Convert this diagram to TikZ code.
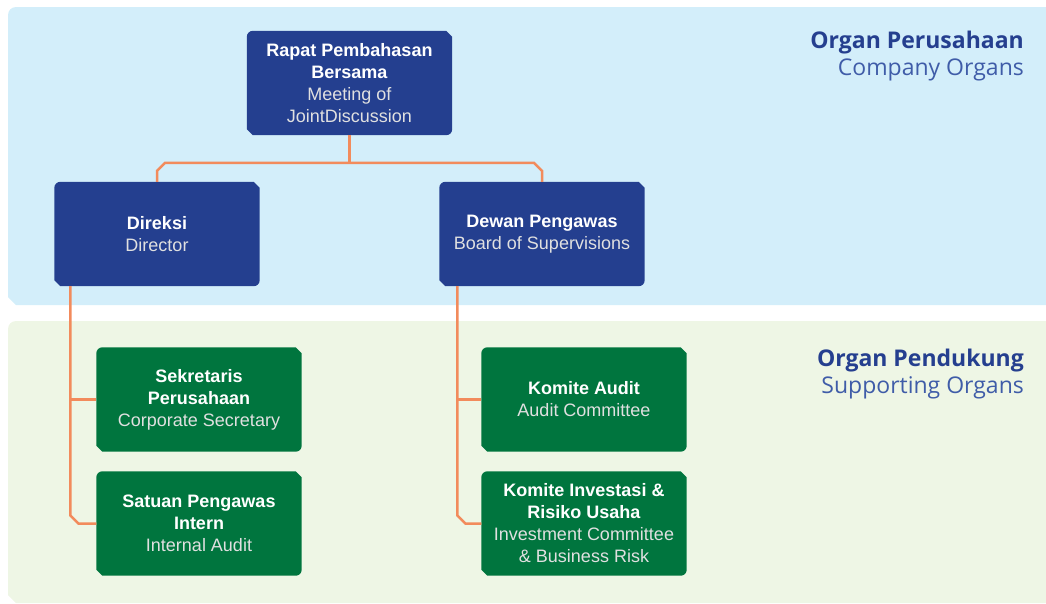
\documentclass[tikz,border=0pt]{standalone}
\usepackage{fontspec}
\setmainfont{Liberation Sans}
\newfontfamily\headfont{Open Sans}
\usetikzlibrary{calc}
\definecolor{skypanel}{HTML}{D3EEFA}
\definecolor{leafpanel}{HTML}{EEF6E5}
\definecolor{navybox}{HTML}{243F8F}
\definecolor{greenbox}{HTML}{00753E}
\definecolor{linkorange}{HTML}{F28B5C}
\definecolor{headnavy}{HTML}{253F8F}
\definecolor{subnavy}{HTML}{3F5CA8}
\pgfdeclarelayer{panels}
\pgfdeclarelayer{fills}
\pgfsetlayers{panels,fills,main}
\newcommand\lt[1]{{\color{white!88!black}#1}}
% filled box: rounded top-left / bottom-right, chamfered top-right / bottom-left
\newcommand\orgshape[2]{%
  \fill[#2] ([yshift=-6pt]#1.north west) arc[start angle=180,end angle=90,radius=6pt]
    -- ([xshift=-6pt]#1.north east) -- ([yshift=-6pt]#1.north east)
    -- ([yshift=6pt]#1.south east) arc[start angle=0,end angle=-90,radius=6pt]
    -- ([xshift=6pt]#1.south west) -- ([yshift=6pt]#1.south west) -- cycle;}
\tikzset{
  organ/.style={minimum width=205pt, minimum height=104pt, inner sep=0pt,
    align=center, text=white, font=\fontsize{18}{22}\selectfont},
  link/.style={draw=linkorange, line width=2.5pt, line join=miter},
  headline/.style={anchor=base east, inner sep=0pt, text=headnavy,
    font=\headfont\bfseries\fontsize{23}{26}\selectfont},
  subline/.style={anchor=base east, inner sep=0pt, text=subnavy,
    font=\headfont\fontsize{23}{26}\selectfont},
}
\begin{document}
\begin{tikzpicture}[x=1pt,y=-1pt]
\useasboundingbox (0,0) rectangle (1046,603);

% section panels
\begin{pgfonlayer}{panels}
  \fill[skypanel] (8,15) arc[start angle=180,end angle=90,radius=8pt]
    -- (1046,7) -- (1046,305) -- (16,305) -- (8,297) -- cycle;
  \fill[leafpanel] (8,329) arc[start angle=180,end angle=90,radius=8pt]
    -- (1046,321) -- (1046,603) -- (16,603) -- (8,595) -- cycle;
\end{pgfonlayer}

% section headings
\node[headline] (hco) at (1024,48) {Organ Perusahaan};
\node[subline]  (sco) at (1024,75) {Company Organs};
\node[headline] (hsu) at (1024,366) {Organ Pendukung};
\node[subline]  (ssu) at (1024,393) {Supporting Organs};

% organ boxes
\node[organ] (rapat) at (349.5,83)
  {\textbf{Rapat Pembahasan}\\\textbf{Bersama}\\\lt{Meeting of}\\\lt{JointDiscussion}};
\node[organ] (dir) at (157,234) {\textbf{Direksi}\\\lt{Director}};
\node[organ] (dew) at (542,234) {\textbf{Dewan Pengawas}\\\lt{Board of Supervisions}};
\node[organ] (sek) at (199,399.5)
  {\textbf{Sekretaris}\\\textbf{Perusahaan}\\\lt{Corporate Secretary}};
\node[organ] (sat) at (199,523.5)
  {\textbf{Satuan Pengawas}\\\textbf{Intern}\\\lt{Internal Audit}};
\node[organ] (kau) at (584,399.5) {\textbf{Komite Audit}\\\lt{Audit Committee}};
\node[organ] (kin) at (584,523.5)
  {\textbf{Komite Investasi \&}\\\textbf{Risiko Usaha}\\\lt{Investment Committee}\\\lt{\& Business Risk}};

\begin{pgfonlayer}{fills}
  \orgshape{rapat}{navybox}
  \orgshape{dir}{navybox}
  \orgshape{dew}{navybox}
  \orgshape{sek}{greenbox}
  \orgshape{sat}{greenbox}
  \orgshape{kau}{greenbox}
  \orgshape{kin}{greenbox}
\end{pgfonlayer}

% connectors
\draw[link] (rapat.south) -- ($(rapat.south |- dir.north)+(0,-19)$);
\draw[link] (dir.north) -- ++(0,-11) -- ++(8,-8)
  -- ($(dew.north)+(-8,-19)$) -- ++(8,8) -- (dew.north);
\draw[link] ([xshift=16pt]dir.south west) -- ($(sat.west)+(-26,-8)$)
  -- ($(sat.west)+(-18,0)$) -- (sat.west);
\draw[link] (sek.west) -- ++(-26,0);
\draw[link] ([xshift=18pt]dew.south west) -- ($(kin.west)+(-24,-8)$)
  -- ($(kin.west)+(-16,0)$) -- (kin.west);
\draw[link] (kau.west) -- ++(-24,0);
\end{tikzpicture}
\end{document}
